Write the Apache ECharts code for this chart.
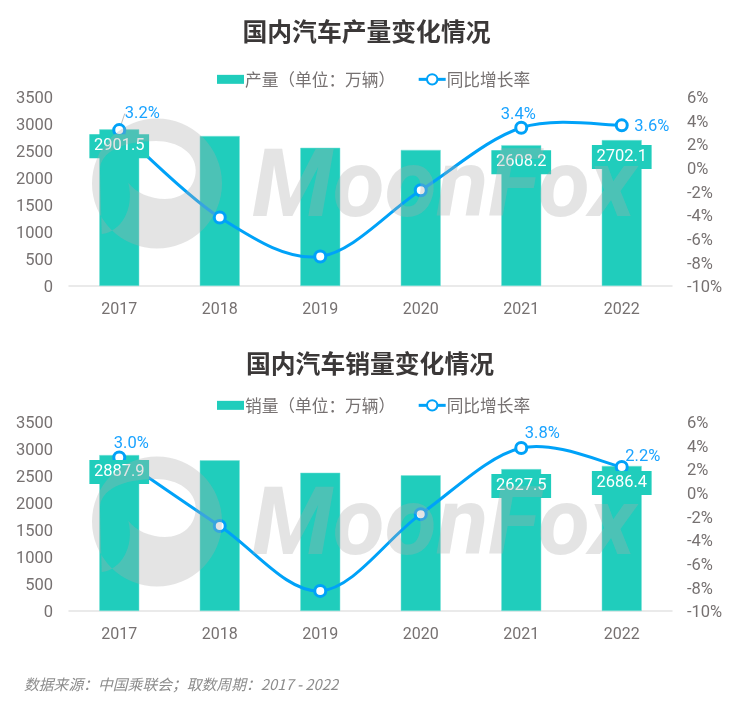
<!DOCTYPE html>
<html>
<head>
<meta charset="utf-8">
<style>
  html, body { margin: 0; padding: 0; background: #fff; }
  #app { width: 741px; height: 701px; }
</style>
<script src="https://cdn.jsdelivr.net/npm/echarts@6/dist/echarts.min.js"></script>
</head>
<body>
<div id="app"></div>
<script>
const years = ["2017", "2018", "2019", "2020", "2021", "2022"];
const outputVolume = [2901.5, 2778, 2560, 2520, 2608.2, 2702.1];
const outputGrowth = [3.2, -4.2, -7.5, -1.9, 3.4, 3.6];
const salesVolume = [2887.9, 2790, 2561, 2513, 2627.5, 2686.4];
const salesGrowth = [3.0, -2.8, -8.3, -1.8, 3.8, 2.2];
// only these points carry a label in the original
const labelledBars = [0, 4, 5];
const labelledPoints = [0, 4, 5];
const volumeTicks = [0, 3500, 500];
const growthTicks = [-10, 6, 2];

const BAR = "#20CDBC";
const LINE = "#00A2F8";
const GREY = "#767171";
const CJK = '"Noto Sans CJK SC"';

// logo of the watermark, drawn as outer circle plus bubble-shaped hole
const LOGO =
  "M92,183.5 A65,65 0 1,1 222,183.5 A65,65 0 1,1 92,183.5 Z " +
  "M128.3,182.7 C135,192 150,199 165,199 C183,199 195.7,187 195.7,170 " +
  "C195.7,153 178,141 156,141 C122,141 100,152 100,170 L101,208 L101.7,234 " +
  "C120,232 135,210 128.3,182.7 Z";

echarts.graphic.registerShape("moonfoxLogo", echarts.graphic.extendPath(LOGO, {}));

function watermark(dy) {
  const fill = "rgba(172,172,172,0.32)";
  return {
    type: "group",
    y: dy,
    silent: true,
    z: 100,
    children: [
      { type: "moonfoxLogo", z: 100, style: { fill: fill } },
      {
        type: "text", z: 100, x: 252, y: 145,
        style: { text: "MoonFox", fill: fill, font: "italic bold 95px Roboto" }
      }
    ]
  };
}

function barSeries(name, values, idx) {
  return {
    type: "bar",
    name: name,
    xAxisIndex: idx,
    yAxisIndex: idx * 2,
    barWidth: 40,
    z: 1,
    itemStyle: { color: BAR, borderColor: "#7FE3D8", borderWidth: 0.5 },
    data: values
  };
}

// invisible copy of the bars, so the value boxes sit above the line
function barLabelSeries(values, idx) {
  return {
    type: "bar",
    name: "数值" + idx,
    xAxisIndex: idx,
    yAxisIndex: idx * 2,
    barWidth: 40,
    barGap: "-100%",
    z: 3,
    itemStyle: { color: "transparent" },
    data: values.map((v, i) => ({
      value: v,
      label: {
        show: labelledBars.includes(i),
        position: "insideTop",
        color: "#fff",
        backgroundColor: BAR,
        fontFamily: "Roboto",
        fontSize: 16.5,
        lineHeight: 18,
        padding: [3, 4.5]
      }
    }))
  };
}

// the original curve overshoots between points, which the line series clamps,
// so each segment is a bezier placed through the axis scales
function curveSeries(values, idx) {
  return {
    type: "custom",
    name: "曲线" + idx,
    xAxisIndex: idx,
    yAxisIndex: idx * 2 + 1,
    z: 2,
    silent: true,
    encode: { x: 0, y: 1 },
    data: values.map((v, i) => [i, v]),
    renderItem: (params, api) => {
      const i = params.dataIndex;
      if (i === values.length - 1) return null;
      const at = (k) => {
        const n = Math.max(0, Math.min(values.length - 1, k));
        return api.coord([n, values[n]]);
      };
      const p0 = at(i - 1), p1 = at(i), p2 = at(i + 1), p3 = at(i + 2);
      return {
        type: "bezierCurve",
        shape: {
          x1: p1[0], y1: p1[1],
          x2: p2[0], y2: p2[1],
          cpx1: p1[0] + (p2[0] - p0[0]) / 6, cpy1: p1[1] + (p2[1] - p0[1]) / 6,
          cpx2: p2[0] - (p3[0] - p1[0]) / 6, cpy2: p2[1] - (p3[1] - p1[1]) / 6
        },
        style: { stroke: LINE, lineWidth: 3, fill: "none" }
      };
    }
  };
}

function lineSeries(values, idx, offsets, leader) {
  return {
    type: "line",
    name: "同比增长率",
    xAxisIndex: idx,
    yAxisIndex: idx * 2 + 1,
    z: 2,
    symbol: "circle",
    symbolSize: 11,
    lineStyle: { opacity: 0 },
    itemStyle: { color: "#fff", borderColor: LINE, borderWidth: 3 },
    data: values.map((v, i) => ({
      value: v,
      label: {
        show: labelledPoints.includes(i),
        position: "top",
        color: "#1AA3FF",
        fontFamily: "Roboto",
        fontSize: 16.5,
        formatter: (p) => p.value.toFixed(1) + "%"
      },
      labelLine: { show: leader && i === 0, lineStyle: { color: "#BDBDBD", width: 1 } }
    })),
    labelLayout: (p) => {
      const o = offsets[p.dataIndex] || [0, 0];
      return { dx: o[0], dy: o[1] };
    }
  };
}

function xAxis(gridIndex) {
  return {
    type: "category",
    gridIndex: gridIndex,
    data: years,
    axisTick: { show: false },
    axisLine: { lineStyle: { color: "#E3E3E3", width: 1.5 } },
    axisLabel: { color: GREY, fontFamily: "Roboto", fontSize: 16, margin: 16 }
  };
}

function valueAxis(gridIndex, ticks, position, suffix) {
  return {
    type: "value",
    gridIndex: gridIndex,
    position: position,
    min: ticks[0],
    max: ticks[1],
    interval: ticks[2],
    splitLine: { show: false },
    axisLine: { show: false },
    axisTick: { show: false },
    axisLabel: {
      color: GREY,
      fontFamily: "Roboto",
      fontSize: 16.5,
      // top-aligned with a small line box nudges the text just below its tick
      verticalAlign: "top",
      lineHeight: 4,
      margin: position === "left" ? 16 : 15,
      formatter: (v) => v + suffix
    }
  };
}

function title(text, centre, top) {
  return {
    text: text,
    left: centre,
    top: top,
    padding: 0,
    textAlign: "center",
    textStyle: { color: "#3B3838", fontFamily: CJK, fontSize: 24.8, fontWeight: "bold" }
  };
}

function legend(name, top) {
  return {
    left: 217,
    top: top,
    itemWidth: 27,
    itemHeight: 13,
    itemGap: 22,
    padding: 0,
    selectedMode: false,
    textStyle: { color: GREY, fontFamily: CJK, fontSize: 16.7, padding: [0, 0, 0, -4] },
    data: [
      {
        name: name,
        icon: "path://M0,0 L0,0 M0,2 L27,2 L27,11 L0,11 Z M0,13 L0,13",
        itemStyle: { borderWidth: 0 }
      },
      { name: "同比增长率", lineStyle: { opacity: 1, color: LINE, width: 3 } }
    ]
  };
}

const option = {
  backgroundColor: "#fff",
  animation: false,
  title: [
    title("国内汽车产量变化情况", 366.5, 19),
    title("国内汽车销量变化情况", 370, 351),
    {
      text: "数据来源：中国乘联会；取数周期：2017 - 2022",
      left: 24,
      top: 677,
      padding: 0,
      textStyle: { color: "#8C8C8C", fontFamily: CJK, fontSize: 14.8, fontStyle: "italic", fontWeight: "normal" }
    }
  ],
  legend: [legend("产量（单位：万辆）", 71), legend("销量（单位：万辆）", 397)],
  grid: [
    { left: 69, right: 69, top: 97, height: 189 },
    { left: 69, right: 69, top: 422, height: 189 }
  ],
  xAxis: [xAxis(0), xAxis(1)],
  yAxis: [
    valueAxis(0, volumeTicks, "left", ""),
    valueAxis(0, growthTicks, "right", "%"),
    valueAxis(1, volumeTicks, "left", ""),
    valueAxis(1, growthTicks, "right", "%")
  ],
  series: [
    barSeries("产量（单位：万辆）", outputVolume, 0),
    barLabelSeries(outputVolume, 0),
    curveSeries(outputGrowth, 0),
    lineSeries(outputGrowth, 0, { 0: [23, 4], 4: [-3, 8], 5: [30, 22] }, true),
    barSeries("销量（单位：万辆）", salesVolume, 1),
    barLabelSeries(salesVolume, 1),
    curveSeries(salesGrowth, 1),
    lineSeries(salesGrowth, 1, { 0: [12, 7], 4: [21, 6], 5: [21, 10] }, false)
  ],
  graphic: [watermark(0), watermark(338)]
};

const chart = echarts.init(document.getElementById("app"));
chart.setOption(option);
</script>
</body>
</html>
